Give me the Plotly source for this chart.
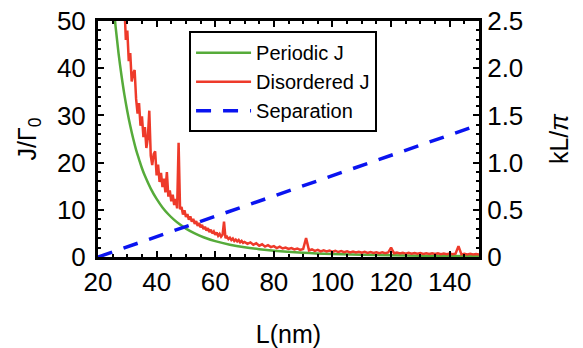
import plotly.graph_objects as go

# ---- data ----
L_per = [24, 25, 26, 27, 28, 29, 30, 31, 32, 33, 34, 35, 36, 38, 40, 42, 44, 46, 48, 50,
         53, 56, 60, 65, 70, 75, 80, 90, 100, 110, 120, 130, 140, 150]
J_per = [63.0, 55.3, 48.8, 43.2, 38.5, 34.4, 30.9, 27.8, 25.1, 22.7, 20.7, 18.8, 17.2, 14.5,
         12.3, 10.5, 9.06, 7.86, 6.86, 6.02, 5.0, 4.19, 3.36, 2.6, 2.05, 1.65, 1.34, 0.92,
         0.65, 0.48, 0.37, 0.29, 0.23, 0.18]

L_dis = [28, 28.5, 29, 29.5, 30, 30.5, 31, 31.5, 32, 32.5, 33, 33.5, 34, 34.5, 35, 35.5,
         36, 36.5, 37, 37.5, 38, 38.5, 39, 39.5, 40, 40.5, 41, 41.5, 42, 42.5, 43, 43.5,
         44, 44.5, 45, 45.5, 46, 46.5, 47, 47.5, 48, 48.5, 49, 49.5, 50,
         50.5, 51, 51.5, 52, 52.5, 53, 53.5, 54, 54.5, 55, 55.5, 56, 56.5, 57, 57.5, 58,
         58.5, 59, 59.5, 60, 60.5, 61, 61.5, 62, 62.5, 63, 63.5, 64, 64.5, 65, 65.5, 66,
         66.5, 67, 67.5, 68, 68.5, 69, 69.5, 70,
         71, 72, 73, 74, 75, 76, 77, 78, 79, 80, 81, 82, 83, 84, 85, 86, 87, 88, 89, 90,
         91, 92, 93, 94, 95, 96, 97, 98, 99, 100, 101, 102, 103, 104, 105, 106, 107, 108,
         109, 110, 111, 112, 113, 114, 115, 116, 117, 118, 119, 120, 121, 122, 123, 124,
         125, 126, 127, 128, 129, 130, 131, 132, 133, 134, 135, 136, 137, 138, 139, 140,
         141, 142, 143, 144, 145, 146, 147, 148, 149, 150]
J_dis = [57.0, 51.0, 53.5, 46.0, 48.0, 41.5, 43.2, 37.2, 38.9, 39.6, 33.5, 30.4, 32.6, 27.8,
         29.8, 25.4, 27.5, 23.1, 25.2, 31.0, 21.5, 19.5, 21.8, 22.4, 17.3, 19.6, 15.9, 17.8,
         14.8, 16.6, 13.7, 18.0, 12.8, 14.1, 11.8, 13.2, 11.0, 12.3, 10.3, 24.2, 10.1, 10.6,
         9.0, 9.9, 8.5,
         9.1, 7.9, 8.6, 7.5, 8.1, 7.0, 7.6, 6.6, 7.2, 6.3, 6.8, 5.9, 6.4, 5.6, 6.1, 5.3,
         5.8, 5.0, 5.4, 4.7, 5.2, 4.5, 4.9, 4.3, 4.7, 7.5, 4.0, 4.3, 3.8, 4.1, 3.6, 3.9,
         3.4, 3.7, 3.3, 3.6, 3.1, 3.4, 3.0, 3.2,
         2.8, 3.1, 2.6, 2.9, 2.4, 2.7, 2.2, 2.5, 2.1, 2.3, 1.9, 2.2, 1.8, 2.0, 1.7, 1.9,
         1.6, 1.8, 1.5, 1.7, 4.0, 1.4, 1.6, 1.3, 1.5, 1.2, 1.4, 1.2, 1.35, 1.1, 1.3, 1.05,
         1.25, 1.0, 1.2, 0.98, 1.15, 0.95, 1.12, 0.9, 1.08, 0.88, 1.05, 0.85, 1.0, 0.82,
         0.98, 0.8, 0.95, 2.0, 0.78, 0.92, 0.75, 0.9, 0.72, 0.88, 0.7, 0.85, 0.68, 0.82,
         0.66, 0.8, 0.64, 0.78, 0.62, 0.76, 0.6, 0.74, 0.58, 0.72, 0.57, 0.7, 2.3, 0.56,
         0.68, 0.55, 0.66, 0.54, 0.64, 0.53]

L_sep = [20, 150]
k_sep = [0.0, 1.40]

x_ticks = [20, 40, 60, 80, 100, 120, 140]
y_ticks = [0, 10, 20, 30, 40, 50]
y2_ticks = [0, 0.5, 1.0, 1.5, 2.0, 2.5]
y2_labels = ["0", "0.5", "1.0", "1.5", "2.0", "2.5"]

FONT = "Liberation Sans, Arial, Helvetica, sans-serif"

fig = go.Figure()
fig.add_trace(go.Scatter(x=L_per, y=J_per, mode="lines", name="Periodic J",
                         line=dict(color="#56ab3a", width=2.5, shape="spline")))
fig.add_trace(go.Scatter(x=L_dis, y=J_dis, mode="lines", name="Disordered J",
                         line=dict(color="#ee3a2a", width=2.5)))
fig.add_trace(go.Scatter(x=L_sep, y=k_sep, mode="lines", name="Separation", yaxis="y2",
                         line=dict(color="#0a14f0", width=3.5, dash="15px,12px")))

fig.update_layout(
    width=583, height=348,
    margin=dict(l=98, r=104, t=21, b=91),
    paper_bgcolor="white", plot_bgcolor="white",
    font=dict(family=FONT, color="black", size=26),
    showlegend=True,
    legend=dict(x=0.239, y=0.957, xanchor="left", yanchor="top",
                bordercolor="black", borderwidth=2, bgcolor="white",
                font=dict(size=20, family=FONT), itemwidth=55,
                tracegroupgap=0),
    xaxis=dict(range=[20, 150], tickvals=x_ticks, ticks="inside", ticklen=6, tickwidth=2,
               tickcolor="black", showline=True, linecolor="black", linewidth=3,
               mirror="ticks", showgrid=False, zeroline=False, automargin=False,
               minor=dict(dtick=5, ticks="inside", ticklen=3, tickwidth=2, tickcolor="black"),
               tickfont=dict(size=26),
               title=dict(text="L(nm)", font=dict(size=25), standoff=30)),
    yaxis=dict(range=[0, 50], tickvals=y_ticks, ticks="inside", ticklen=6, tickwidth=2,
               tickcolor="black", showline=True, linecolor="black", linewidth=3,
               showgrid=False, zeroline=False, automargin=False,
               minor=dict(dtick=2, ticks="inside", ticklen=3, tickwidth=2, tickcolor="black"),
               tickfont=dict(size=26), ticklabelstandoff=4,
               title=dict(text="J/Γ<sub>0</sub>", font=dict(size=25), standoff=14)),
    yaxis2=dict(range=[0, 2.5], tickvals=y2_ticks, ticktext=y2_labels, overlaying="y",
                side="right", ticks="inside", ticklen=6, tickwidth=2, tickcolor="black",
                showline=True, linecolor="black", linewidth=3, showgrid=False,
                zeroline=False, automargin=False,
                minor=dict(dtick=0.1, ticks="inside", ticklen=3, tickwidth=2, tickcolor="black"),
                tickfont=dict(size=26), ticklabelstandoff=0,
                title=dict(text="kL/<i>π</i>", font=dict(size=25), standoff=29)),
)

fig.write_html("out.html")
